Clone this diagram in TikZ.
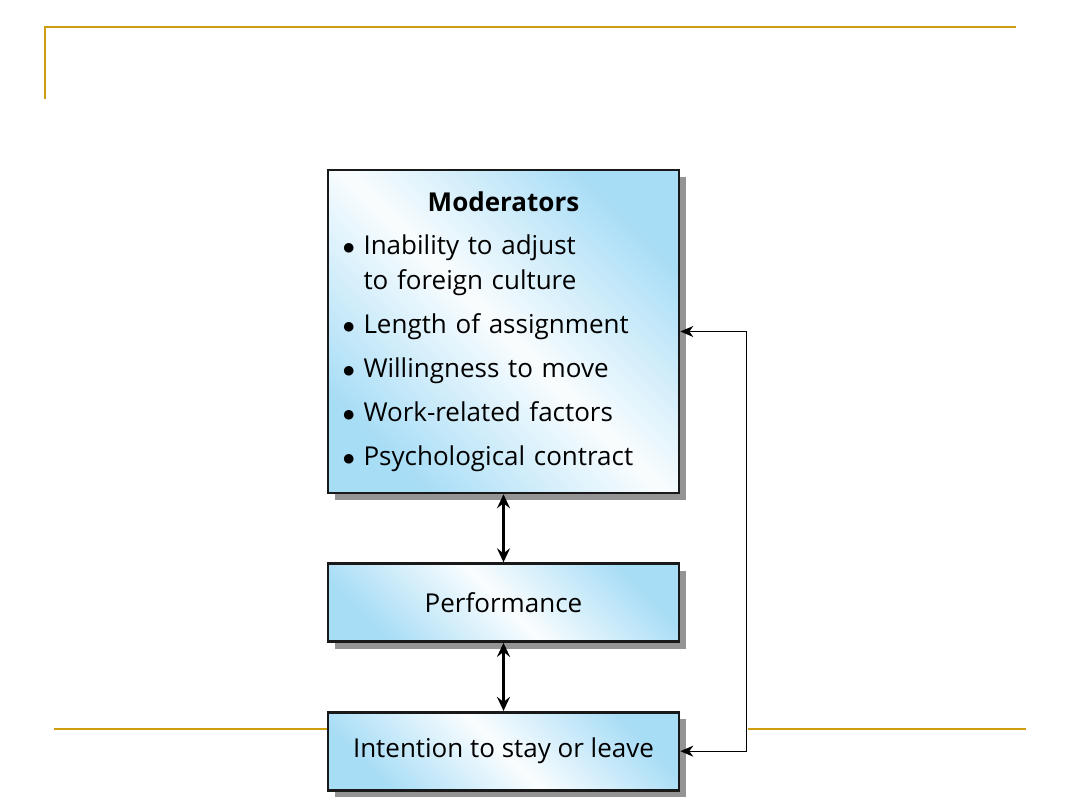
\documentclass[tikz,border=0pt]{standalone}
\usepackage{fontspec}
\setmainfont{Open Sans}
\usepackage{xcolor}
\usetikzlibrary{arrows.meta,positioning,shadows}
\definecolor{rulegold}{RGB}{207,158,16}
\definecolor{boxblue}{RGB}{168,221,246}
\tikzset{
  fbox/.style={draw=black!90, line width=2.6pt, left color=boxblue,
    right color=boxblue, middle color=white!94!boxblue, shading angle=135,
    minimum width=351pt, align=center,
    drop shadow={shadow xshift=7pt, shadow yshift=-7pt, fill=black!42, opacity=1},
    font=\fontsize{26}{35}\selectfont},
  modbox/.style={fbox, minimum height=323pt, text width=322pt, align=left},
  smbox/.style={fbox, minimum height=78pt},
  rule/.style={rulegold, line width=2pt},
  dflow/.style={{Stealth[length=14pt,width=13pt,inset=5pt]}-{Stealth[length=14pt,width=13pt,inset=5pt]}, line width=2.4pt},
  fback/.style={{Stealth[length=13pt,width=11pt,inset=4pt]}-{Stealth[length=13pt,width=11pt,inset=4pt]}, line width=1.2pt}
}
\newcommand{\itm}[1]{\makebox[21pt][l]{$\bullet$}#1}

\begin{document}
\begin{tikzpicture}[x=1pt, y=-1pt, node distance=68pt]
  \useasboundingbox (0,0) rectangle (1080,810);
  % slide rules
  \draw[rule] (44,27) -- (1016,27);
  \draw[rule] (45,27) -- (45,99);
  \draw[rule] (54,729) -- (327,729);
  \draw[rule] (748,729) -- (1026,729);

  \node[modbox] (mod) at (503.5,331.5)
    {\makebox[\hsize]{\bfseries Moderators}\\[8pt]
     \itm{Inability to adjust}\\
     \hspace*{21pt}to foreign culture\\[9pt]
     \itm{Length of assignment}\\[9pt]
     \itm{Willingness to move}\\[9pt]
     \itm{Work-related factors}\\[9pt]
     \itm{Psychological contract}};
  \node[smbox, below=of mod] (perf) {Performance};
  \node[smbox, below=of perf] (intent) {Intention to stay or leave};

  \draw[dflow] (mod) -- (perf);
  \draw[dflow] (perf) -- (intent);
  \coordinate[right=66pt of intent.east] (loop);
  \draw[fback] (intent.east) -| (loop) |- (mod.east);
\end{tikzpicture}
\end{document}
